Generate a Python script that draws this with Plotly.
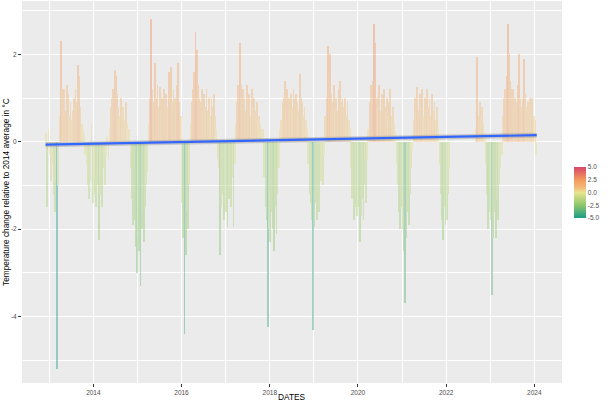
import numpy as np
import pandas as pd
import plotly.graph_objects as go

# ---- data: dekadal (10-day) temperature anomalies ----
# each yearly list: Jan d1,d2,d3, Feb d1,d2,d3, ... Dec d1,d2,d3 ; None = no data
dec_2012 = [0.2, -1.5, 0.3]
vals_2013 = [-0.3, -0.9, -0.5, -1.2, -1.6, -0.9, -5.2, -1.0, 0.6, 2.3, 1.2, 0.8,
             1.2, 0.7, 1.3, 1.1, 0.6, 0.9, 0.5, 0.7, 1.0, 1.2, 0.9, 1.75,
             1.5, 0.8, 0.4, 0.3, 0.2, -0.3, -0.5, -1.0, -1.3, -0.9, 0.4, -1.4]
vals_2014 = [-1.2, -0.8, -1.5, -1.0, -2.25, -1.2, -0.8, -1.5, -0.6, -1.0, -0.3, 0.1,
             -0.4, 0.3, 0.8, 1.0, 1.2, 1.65, 1.5, 1.1, 0.8, 0.6, 1.0, 0.7,
             0.8, 0.5, 0.9, 0.4, 0.2, 0.3, -0.6, -1.3, -1.9, -1.8, -2.4, -3.0]
vals_2015 = [-2.2, -2.5, -3.3, -2.0, -1.6, -2.3, -1.5, -1.0, -0.7, 0.4, 1.0, 2.8,
             1.2, 0.9, 1.8, 1.0, 1.3, 0.8, 1.25, 0.7, 1.0, 1.2, 0.9, 1.1,
             0.8, 1.6, 1.1, 1.7, 0.9, 1.2, 1.0, 0.8, 1.3, 1.8, 0.9, 0.6]
vals_2016 = [-1.4, -2.2, -4.4, -2.6, -1.6, -2.0, -1.0, 0.4, 0.9, 1.2, 1.6, 2.5,
             2.1, 1.3, 1.0, 0.9, 1.2, 0.7, 1.1, 0.8, 1.2, 0.7, 1.0, 0.6,
             1.0, 0.8, 1.1, 0.6, 0.3, -0.4, -0.6, -2.6, -1.5, -1.2, -1.8, -1.4]
vals_2017 = [-1.6, -1.95, -1.3, -1.0, -1.5, -0.8, -1.95, -0.5, 0.4, 0.9, 1.3, 2.25,
             1.3, 0.9, 1.2, 1.0, 0.7, 1.3, 0.9, 1.1, 0.6, 1.2, 0.8, 1.0,
             0.7, 0.9, 0.5, 0.6, 0.4, 0.3, 0.3, -0.8, -1.5, -1.8, -4.24, -2.0]
vals_2018 = [-2.3, -1.6, -2.0, -2.5, -1.5, -2.1, -1.2, -0.6, 0.3, 0.5, 0.9, 1.0,
             1.4, 0.8, 1.2, 1.0, 0.7, 1.1, 0.8, 1.2, 1.0, 1.1, 0.9, 0.7,
             1.55, 1.0, 0.9, 0.6, 0.8, 0.5, 0.3, -0.5, -1.2, -1.4, -1.8, -4.3]
vals_2019 = [-1.95, -1.4, -1.8, -1.2, -1.6, -0.9, -0.6, -1.0, -0.3, 0.6, 1.0, 2.2,
             1.6, 2.0, 1.1, 0.9, 1.3, 0.8, 1.0, 0.7, 1.2, 1.4, 0.9, 1.0,
             0.8, 1.0, 0.6, 0.9, 0.5, 0.3, -0.6, -1.3, -1.8, -1.5, -1.2, -1.7]
vals_2020 = [-1.5, -2.3, -1.7, -1.3, -1.8, -1.0, -1.4, -0.4, 0.3, 0.9, 1.3, 1.1,
             1.4, 2.7, 2.25, 1.0, 0.8, 1.3, 0.7, 1.1, 0.9, 1.2, 0.8, 1.0,
             0.6, 0.9, 1.2, 0.6, 0.8, 0.4, 0.2, -0.5, -1.0, -1.6, -2.0, -1.5]
vals_2021 = [-2.0, -2.5, -3.7, -2.2, -1.6, -1.9, -1.2, -0.6, -0.2, 0.5, 1.0, 0.8,
             1.26, 0.7, 1.1, 0.9, 1.2, 0.6, 1.0, 0.7, 1.2, 0.8, 1.0, 0.6,
             1.1, 0.7, 0.9, 0.5, 0.8, 0.3, -0.5, -1.2, -1.8, -2.25, -1.5, -1.9]
vals_2022 = [-1.8, -1.2, -0.6, None, None, None, None, None, None, None, None, None,
             None, None, None, None, None, None, None, None, None, None, None, None,
             0.3, 1.95, 0.6, 0.9, 0.6, 0.8, 0.4, 0.2, -0.5, -1.2, -2.0, -1.6]
vals_2023 = [-1.8, -3.5, -2.2, -1.6, -2.2, -1.3, -1.8, -1.0, -0.6, -0.3, 0.6, 1.0,
             1.2, 1.5, 2.7, 2.0, 1.4, 1.2, 1.2, 0.8, 1.0, 0.9, 1.3, 2.0,
             1.0, 0.8, 1.0, 1.9, 1.1, 0.8, 0.9, 0.7, 1.0, 0.8, 1.0, 0.6]
jan_2024 = [0.5, -0.3]

# ---- assemble the series on a calendar of dekads ----
chunks = [((2012, 12), dec_2012), ((2013, 1), vals_2013), ((2014, 1), vals_2014),
          ((2015, 1), vals_2015), ((2016, 1), vals_2016), ((2017, 1), vals_2017),
          ((2018, 1), vals_2018), ((2019, 1), vals_2019), ((2020, 1), vals_2020),
          ((2021, 1), vals_2021), ((2022, 1), vals_2022), ((2023, 1), vals_2023),
          ((2024, 1), jan_2024)]
dates, values = [], []
for (yr, mo), vals in chunks:
    for i, v in enumerate(vals):
        m = mo + i // 3
        d = i % 3
        if v is None:
            continue
        dates.append(pd.Timestamp(yr, m, 6 + 10 * d))
        values.append(v)
dates = pd.DatetimeIndex(dates)
values = np.array(values, dtype=float)

# linear trend (geom_smooth(method = "lm") equivalent)
t = (dates - dates[0]).days.values.astype(float)
slope, intercept = np.polyfit(t, values, 1)
trend_x = [dates[0] - pd.Timedelta(days=5), dates[-1] + pd.Timedelta(days=5)]
trend_t = np.array([(d - dates[0]).days for d in trend_x], dtype=float)
trend_y = intercept + slope * trend_t

colorscale = [[0.0, '#1b9c89'], [0.25, '#8cc66b'], [0.5, '#e9e48f'],
              [0.6, '#f2b877'], [0.75, '#f39a5c'], [1.0, '#d6466a']]

fig = go.Figure()
fig.add_trace(go.Bar(
    x=dates, y=values, width=7 * 86400000, opacity=0.42,
    marker=dict(color=values, colorscale=colorscale, cmin=-5, cmax=5,
                line=dict(width=0), showscale=True,
                colorbar=dict(x=1 + 12 / 540, xanchor='left', y=(383 - 192.5) / 382,
                              yanchor='middle', len=51, lenmode='pixels', thickness=12,
                              outlinewidth=0, xpad=0, ypad=0, ticks='',
                              tickvals=[-5, -2.5, 0, 2.5, 5],
                              ticktext=['-5.0', '-2.5', '0.0', '2.5', '5.0'],
                              tickfont=dict(size=6.5, color='#4D4D4D'))),
    hoverinfo='skip'))
fig.add_trace(go.Scatter(x=trend_x, y=trend_y, mode='lines',
                         line=dict(color='rgba(153,153,153,0.45)', width=5),
                         hoverinfo='skip'))
fig.add_trace(go.Scatter(x=trend_x, y=trend_y, mode='lines',
                         line=dict(color='#3366FF', width=2.2), hoverinfo='skip'))

major_years = [2014, 2016, 2018, 2020, 2022, 2024]
minor_years = [2013, 2015, 2017, 2019, 2021, 2023]
fig.update_xaxes(type='date', range=['2012-05-20', '2024-08-17'],
                 tickvals=[f'{y}-01-01' for y in major_years],
                 ticktext=[str(y) for y in major_years],
                 showgrid=True, gridcolor='white', gridwidth=1,
                 ticks='outside', ticklen=3, tickwidth=0.8, tickcolor='#333333',
                 tickfont=dict(size=6.5, color='#4D4D4D'), zeroline=False, showline=False,
                 minor=dict(tickvals=[f'{y}-01-01' for y in minor_years], showgrid=True,
                            gridcolor='white', gridwidth=0.5, ticks=''))
fig.update_yaxes(range=[-5.52, 3.22], tickvals=[-4, -2, 0, 2], ticktext=['-4', '-2', '0', '2'],
                 showgrid=True, gridcolor='white', gridwidth=1,
                 ticks='outside', ticklen=3, tickwidth=0.8, tickcolor='#333333',
                 tickfont=dict(size=6.5, color='#4D4D4D'), zeroline=False, showline=False,
                 minor=dict(tickvals=[-5, -3, -1, 1, 3], showgrid=True,
                            gridcolor='white', gridwidth=0.5, ticks=''))

fig.update_layout(
    width=610, height=404, margin=dict(l=22, r=48, t=1, b=21),
    paper_bgcolor='white', plot_bgcolor='#EBEBEB', showlegend=False, bargap=0,
    font=dict(family='Liberation Sans, Arial, sans-serif', size=7, color='#4D4D4D'),
    annotations=[
        dict(text='Temperature change relative to 2014 average in °C', xref='paper', yref='paper',
             x=(6 - 22) / 540, y=0.5, textangle=-90, showarrow=False,
             xanchor='center', yanchor='middle', font=dict(size=8.3, color='black')),
        dict(text='DATES', xref='paper', yref='paper', x=0.5, y=-(397 - 383) / 382,
             showarrow=False, xanchor='center', yanchor='middle',
             font=dict(size=8.3, color='black')),
    ])

fig.write_html('out.html', config={'displayModeBar': False},
               post_script="document.body.style.margin='0px';")
